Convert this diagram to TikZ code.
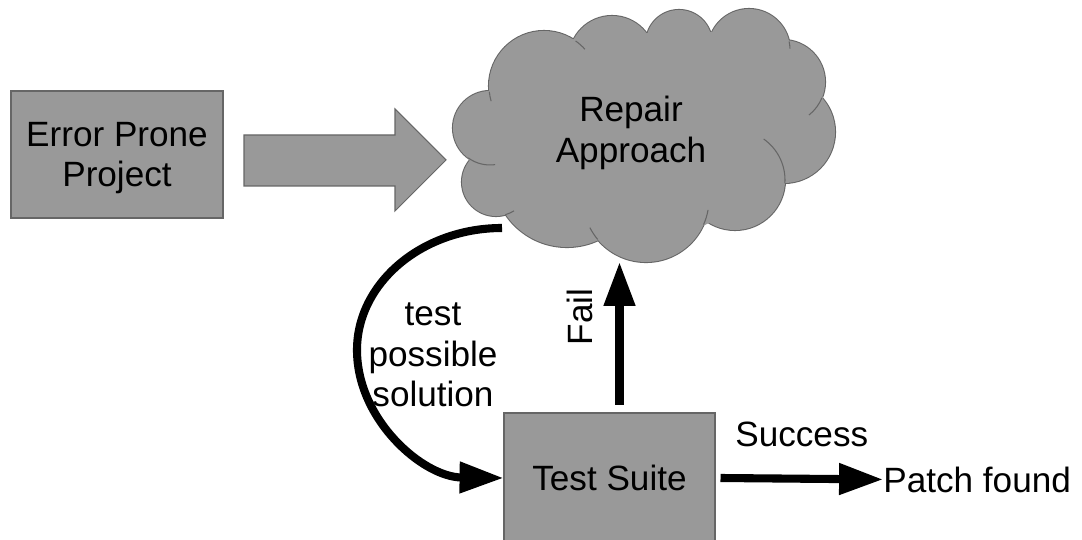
\documentclass[tikz,border=0pt]{standalone}
\usepackage{fontspec}
\setmainfont{Liberation Sans}
\usetikzlibrary{arrows.meta}

\definecolor{blockgray}{RGB}{153,153,153}
\definecolor{edgegray}{RGB}{102,102,102}

\tikzset{
    block/.style={draw=edgegray, line width=0.6pt, fill=blockgray},
    puffline/.style={draw=edgegray, line width=0.6pt},
    flow/.style={line width=4.6pt, -{Triangle[length=25pt,width=17pt]}}
}

\begin{document}
\begin{tikzpicture}[x=0.02cm, y=-0.02cm, font=\fontsize{20}{23}\selectfont]

    % canvas (pixel units, y pointing down)
    \useasboundingbox (0,0) rectangle (1082,540);
    \clip (0,0) rectangle (1082,540);

    % input project
    \node[block, minimum width=4.24cm, minimum height=2.54cm, align=center, text depth=0pt] (project) at (117,154.5) {Error Prone\\Project};

    % block arrow into the cloud
    \draw[block] (244,135) -- (395,135) -- (395,109) -- (446,160) -- (395,211) -- (395,186) -- (244,186) -- cycle;

    % cloud: outline of the circles first, then fill over the inner parts
    \def\puffs{490/128/37, 544/86/55, 612/59/43, 679/43/33, 749/50/41, 783/82/42,
               784/132/51, 735/180/50, 646/199/63, 567/173/74, 496/182/34}
    \foreach \cx/\cy/\r in \puffs
        \draw[draw=edgegray, line width=1.2pt] (\cx,\cy) circle [radius=\r];
    \fill[blockgray] (488,92) -- (577,37) -- (648,33) -- (710,32) -- (788,42) -- (823,98)
        -- (783,183) -- (705,225) -- (598,240) -- (505,213) -- (468,158) -- cycle;
    \foreach \cx/\cy/\r in \puffs
        \fill[blockgray] (\cx,\cy) circle [radius=\r];

    % short inner arcs of the puffs
    \draw[puffline] (544,86) ++(174:55) arc [start angle=174, end angle=164, radius=55];
    \draw[puffline] (544,86) ++(-55:55) arc [start angle=-55, end angle=-42, radius=55];
    \draw[puffline] (749,50) ++(-12:41) arc [start angle=-12, end angle=-2, radius=41];
    \draw[puffline] (783,82) ++(22:42) arc [start angle=22, end angle=52, radius=42];
    \draw[puffline] (735,180) ++(4:50) arc [start angle=4, end angle=-55, radius=50];
    \draw[puffline] (646,199) ++(24:63) arc [start angle=24, end angle=10, radius=63];
    \draw[puffline] (646,199) ++(140:63) arc [start angle=140, end angle=153, radius=63];
    \draw[puffline] (496,182) ++(74:34) arc [start angle=74, end angle=58, radius=34];
    \draw[puffline] (490,128) ++(126:37) arc [start angle=126, end angle=82, radius=37];

    \node[align=center] (repair) at (631,133) {Repair\\Approach};

    % test suite
    \node[block, minimum width=4.22cm, minimum height=2.6cm] (suite) at (609.5,478) {Test Suite};
    \node[anchor=base west, inner sep=0] (patch) at (883,492) {Patch found};

    % loop between repair and tests
    \coordinate (trystart) at (502,228);
    \coordinate (failstart) at (619.5,405);
    \coordinate (failend) at (619.5,262);

    \draw[flow] (trystart) .. controls (422,228) and (357,283) .. (357,350)
        .. controls (357,420) and (423,477) .. (suite.west);
    \node[align=center] (trylabel) at (433,355) {test\\possible\\solution};

    \draw[flow] (failstart) -- (failend);
    \node[rotate=90] (faillabel) at (580,317) {Fail};

    \draw[flow] ([xshift=0.1cm]suite.east) -- (patch.west)
        node[midway, above=0.56cm, inner sep=0] (successlabel) {Success};

\end{tikzpicture}
\end{document}
